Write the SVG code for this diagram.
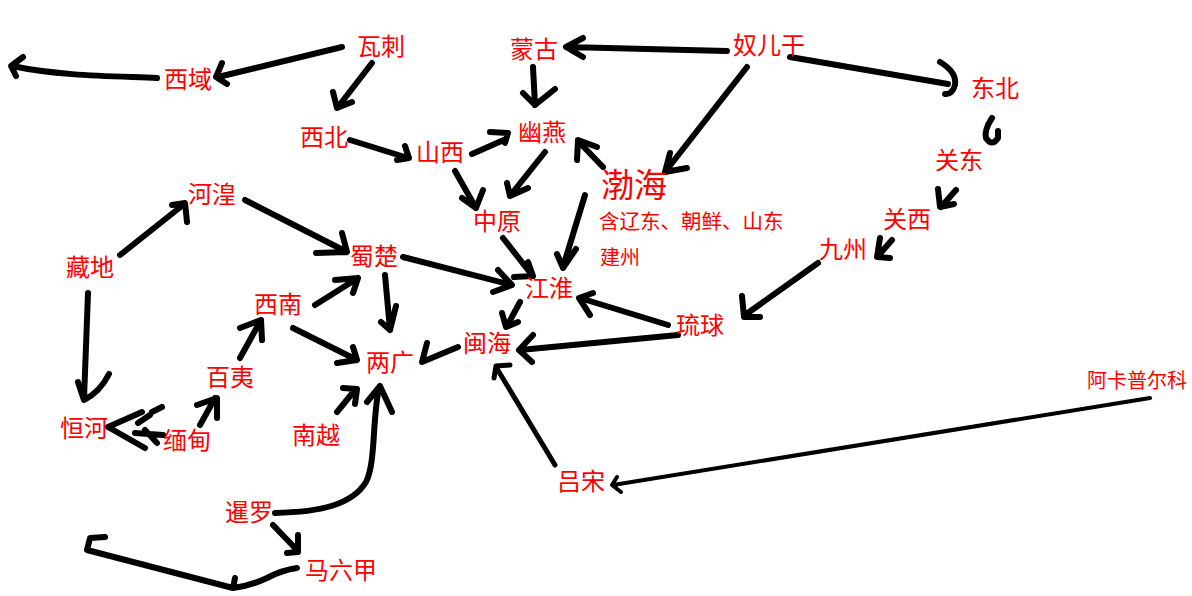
<svg xmlns="http://www.w3.org/2000/svg" width="1192" height="596" viewBox="0 0 1192 596">
<style>
.e{fill:none;stroke:#000;stroke-width:6;stroke-linecap:round;stroke-linejoin:round}
.m{stroke-width:5}
.s{stroke-width:4}
text{fill:#ff0000;font-family:"Noto Sans CJK SC","Microsoft YaHei",sans-serif;font-size:24px;text-anchor:middle}
.big{font-size:33px}
.sm{font-size:20px;text-anchor:start}
.sm2{font-size:20.5px;text-anchor:start}
.ak{font-size:20px}
</style>
<rect width="1192" height="596" fill="#fff"/>
<g id="connectors">
<path class="e" d="M342,47 L218,77 M222,63 L216,77 L227,84"/>
<path class="e" d="M157,78 C110,76 60,76 12,66 M23,57 L11,66 L16,76"/>
<path class="e" d="M372,63 L338,107 M333,92 L337,108 L352,102"/>
<path class="e" d="M350,140 L408,158 M405,146 L409,158 L397,160"/>
<path class="e" d="M727,51 L567,47 M583,38 L566,47 L583,57"/>
<path class="e" d="M533,67 L535,105 M523,93 L535,105 L555,89"/>
<path class="e" d="M472,154 L506,139 M490,132 L508,133 L505,143"/>
<path class="e" d="M747,67 L665,172 M670,153 L665,172 L687,168"/>
<path class="e" d="M545,152 L510,196 M507,183 L510,196 L528,188"/>
<path class="e" d="M603,167 L579,142 M577,160 L578,140 L597,147"/>
<path class="e" d="M455,171 L476,208 M462,198 L476,208 L483,190"/>
<path class="e" d="M503,238 L532,275 M514,277 L533,276 L528,262"/>
<path class="e" d="M585,195 L563,267 M557,254 L563,268 L576,249"/>
<path class="e" d="M403,257 L512,285 M498,270 L512,285 L493,292"/>
<path class="e" d="M668,325 L580,298 M593,293 L579,298 L590,315"/>
<path class="e" d="M678,335 L520,350 M533,335 L519,350 L532,362"/>
<path class="e" d="M520,302 L507,326 M502,313 L506,327 L518,322"/>
<path class="e" d="M458,347 L422,362 L427,343"/>
<path class="e m" d="M555,465 L496,367 M494,378 L496,366 L510,365"/>
<path class="e s" d="M1150,398 L613,485 M617,477 L612,485 L621,492"/>
<path class="e" d="M790,57 L948,84 M940,62 Q957,72 955,85 Q952,95 945,94"/>
<path class="e" d="M992,118 Q984,130 986,138 Q992,147 998,138 L998,131"/>
<path class="e" d="M956,190 L941,207 M938,189 L940,207 L954,204"/>
<path class="e" d="M892,240 L878,256 M880,238 L877,257 L890,258"/>
<path class="e" d="M818,263 L745,315 M742,296 L744,317 L760,317"/>
<path class="e" d="M120,255 L183,205 M172,205 L185,203 L187,222"/>
<path class="e" d="M245,200 L347,252 M342,233 L347,252 L316,253"/>
<path class="e" d="M385,275 L390,330 M381,322 L390,330 L396,306"/>
<path class="e" d="M315,305 L358,278 M335,280 L358,278 L353,293"/>
<path class="e" d="M293,328 L357,360 M353,347 L357,360 L337,363"/>
<path class="e" d="M240,358 L261,320 M240,328 L261,320 L262,340"/>
<path class="e" d="M88,293 L84,399 M78,382 L84,400 Q100,392 109,374"/>
<path class="e" d="M142,412 L108,427 L145,448 M138,423 L150,415 M152,412 L162,407 M135,433 L163,435 M145,430 L157,443"/>
<path class="e" d="M200,425 L215,398 M197,405 L217,398 L217,418"/>
<path class="e" d="M337,412 L355,390 M343,388 L357,389 L355,404"/>
<path class="e" d="M275,513 C320,512 352,505 366,482 C376,462 372,420 379,388 M367,402 L380,386 L392,412"/>
<path class="e" d="M273,525 L297,550 M298,535 L298,552 L287,553"/>
<path class="e" d="M297,568 Q282,570 267,578 Q250,586 233,588 L87,550 L90,538 L105,537 M233,588 L235,578"/>
</g>
<g id="n-wala"><text x="381" y="55">瓦刺</text></g>
<g id="n-xiyu"><text x="188" y="88">西域</text></g>
<g id="n-xibei"><text x="324" y="146">西北</text></g>
<g id="n-menggu"><text x="534" y="58">蒙古</text></g>
<g id="n-nuergan"><text x="769" y="54">奴儿干</text></g>
<g id="n-youyan"><text x="542" y="141">幽燕</text></g>
<g id="n-shanxi"><text x="440" y="161">山西</text></g>
<g id="n-bohai"><text class="big" x="634" y="197">渤海</text><text class="sm2" x="599" y="229">含辽东、朝鲜、山东</text><text class="sm" x="600" y="265">建州</text></g>
<g id="n-dongbei"><text x="995" y="97">东北</text></g>
<g id="n-guandong"><text x="959" y="169">关东</text></g>
<g id="n-guanxi"><text x="907" y="228">关西</text></g>
<g id="n-jiuzhou"><text x="843" y="258">九州</text></g>
<g id="n-hehuang"><text x="212" y="203">河湟</text></g>
<g id="n-zangdi"><text x="90" y="276">藏地</text></g>
<g id="n-shuchu"><text x="374" y="265">蜀楚</text></g>
<g id="n-zhongyuan"><text x="497" y="230">中原</text></g>
<g id="n-jianghuai"><text x="549" y="297">江淮</text></g>
<g id="n-xinan"><text x="278" y="313">西南</text></g>
<g id="n-liuqiu"><text x="700" y="334">琉球</text></g>
<g id="n-minhai"><text x="487" y="352">闽海</text></g>
<g id="n-liangguang"><text x="390" y="371">两广</text></g>
<g id="n-baiyi"><text x="230" y="386">百夷</text></g>
<g id="n-henghe"><text x="84" y="437">恒河</text></g>
<g id="n-miandian"><text x="187" y="449">缅甸</text></g>
<g id="n-nanyue"><text x="316" y="444">南越</text></g>
<g id="n-acapulco"><text class="ak" x="1137" y="388">阿卡普尔科</text></g>
<g id="n-lvsong"><text x="581" y="490">吕宋</text></g>
<g id="n-xianluo"><text x="249" y="521">暹罗</text></g>
<g id="n-malacca"><text x="341" y="579">马六甲</text></g>
</svg>
